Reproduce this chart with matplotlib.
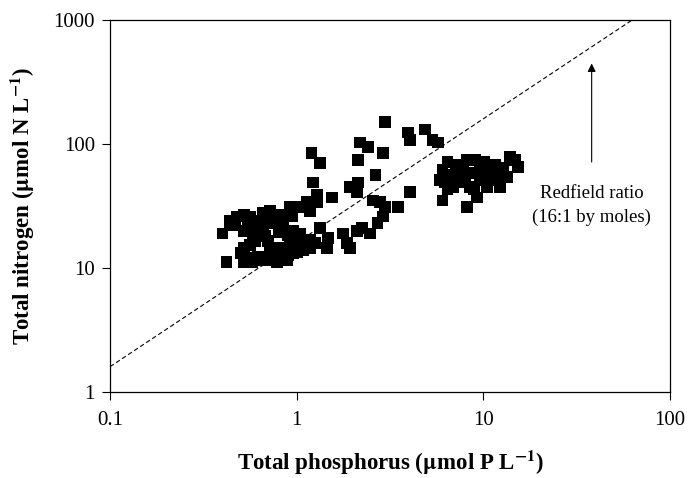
import numpy as np
import matplotlib
matplotlib.use("Agg")
import matplotlib.pyplot as plt

plt.rcParams["font.family"] = ["Liberation Serif", "DejaVu Serif"]
plt.rcParams["mathtext.fontset"] = "stix"

# Total phosphorus (umol P/L) and total nitrogen (umol N/L)
tp = [
    # left cluster, upper band
    0.92, 1.02, 0.94, 0.85, 0.78, 0.72, 0.66, 0.61, 0.56, 0.52, 0.48, 0.44,
    0.40, 0.44, 0.52, 0.58, 0.66, 0.75, 0.84, 0.96, 1.04, 0.90, 1.33, 1.47,
    1.45, 1.77, 1.86, 1.93, 2.10, 2.24, 2.47,
    0.47, 0.55, 0.62, 0.70, 0.78, 0.88, 0.68, 0.80,
    # left cluster, middle band
    0.52, 0.50, 0.56, 0.72, 0.81, 0.92, 1.00, 0.96, 1.04, 1.18, 1.25, 0.60, 0.70,
    # left cluster, lower band
    0.42, 0.52, 0.58, 0.66, 0.75, 0.85, 0.96, 1.08, 1.18, 0.78, 0.89,
    0.55, 0.62, 0.70, 0.90, 1.00,
    # middle
    1.20, 1.33, 1.22, 1.13, 1.08, 1.18, 1.28, 1.28, 1.55, 1.93, 2.13, 2.10,
    2.13, 2.18, 2.41, 2.90, 2.97, 2.64, 2.56, 2.79, 2.97, 2.90, 2.71, 3.49,
    4.05, 3.95, 4.05, 4.87, 5.33, 5.71,
    # right cluster
    6.42, 8.17, 9.59, 10.8, 13.9, 15.3, 12.3, 13.4, 6.04, 5.86, 6.42, 7.31,
    8.48, 9.59, 10.4, 11.8, 12.3, 6.04, 9.24, 8.17, 7.50, 6.88, 8.69, 9.95,
    11.3, 7.1, 7.8, 9.0, 10.1, 11.5, 12.8, 14.8, 6.6, 8.0, 10.8, 6.2, 8.9,
]
tn = [
    31, 31, 26, 24, 27, 29, 28, 24, 26, 27, 26, 24,
    19, 22, 20, 19, 21, 23, 21, 20, 19, 18.5, 21, 17.5,
    14.6, 19, 16, 14.6, 20, 21, 19,
    22, 23, 20, 25, 24, 27, 18, 19.5,
    14.6, 13.3, 15.3, 14.6, 14.6, 16, 16, 18.5, 17.5, 16.8, 16, 16.5, 16.5,
    11.1, 11.1, 11.1, 11.6, 12.2, 12.2, 13.3, 14, 14.6, 11.1, 11.6,
    12.0, 12.2, 11.5, 12.8, 13.5,
    85, 70, 49, 34, 31, 29, 34, 39, 37, 45, 49, 41,
    74, 103, 95, 85, 150, 56, 35, 34, 31, 26, 23, 31,
    41, 124, 108, 131, 108, 103,
    72, 74, 68, 65, 79, 65, 56, 54, 62, 51, 43, 49,
    45, 51, 45, 51, 45, 35, 37, 31, 54, 45, 58, 58,
    58, 68, 62, 74, 72, 68, 64, 74, 56, 51, 54, 49, 43,
]

redfield = 16.0  # N:P by moles
line_x = [0.1, 100]

fig = plt.figure(figsize=(6.88, 4.78), dpi=100)
ax = fig.add_axes([0.160, 0.180, 0.814, 0.778])

ax.scatter(tp, tn, marker="s", s=72, c="black", edgecolors="none", zorder=3)
ax.plot(line_x, [redfield * v for v in line_x], color="black", lw=0.8,
        linestyle=(0, (4, 2.5)), zorder=2)

ax.set_xscale("log")
ax.set_yscale("log")
ax.set_xlim(0.1, 100)
ax.set_ylim(1, 1000)

ax.set_xticks([0.1, 1, 10, 100])
ax.set_xticklabels(["0.1", "1", "10", "100"])
ax.set_yticks([1, 10, 100, 1000])
ax.set_yticklabels(["1", "10", "100", "1000"])
ax.minorticks_off()
ax.tick_params(axis="both", direction="out", length=6, width=0.8,
               labelsize=15, pad=5)
ax.tick_params(axis="x", pad=8)
for sp in ax.spines.values():
    sp.set_linewidth(0.9)

ax.set_xlabel(r"Total phosphorus ($\mathbf{\mu}$mol P L$^{\mathbf{-1}}$)",
              fontsize=16.5, fontweight="bold", labelpad=13)
ax.set_ylabel(r"Total nitrogen ($\mathbf{\mu}$mol N L$^{\mathbf{-1}}$)",
              fontsize=16.5, fontweight="bold", labelpad=12)

# Redfield annotation
ax.annotate("", xy=(38, 470), xytext=(38, 68),
            arrowprops=dict(arrowstyle="-|>", color="black", lw=0.8,
                            mutation_scale=12))
ax.text(38, 32, "Redfield ratio\n(16:1 by moles)", ha="center", va="center",
        fontsize=13.5, linespacing=1.5)

fig.savefig("out.png", dpi=100)
